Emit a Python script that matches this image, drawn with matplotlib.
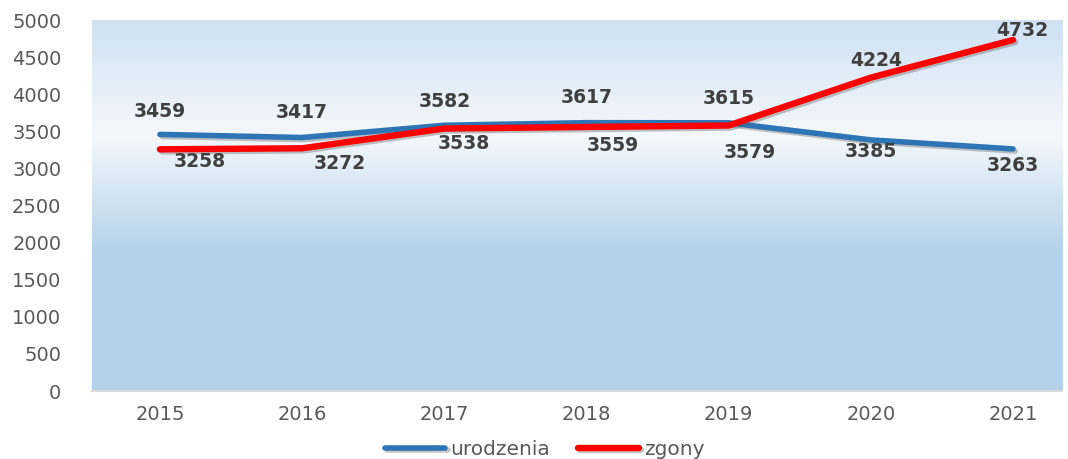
import matplotlib.pyplot as plt
import matplotlib.patheffects as pe
from matplotlib.colors import LinearSegmentedColormap
import numpy as np

years = ["2015", "2016", "2017", "2018", "2019", "2020", "2021"]
urodzenia = [3459, 3417, 3582, 3617, 3615, 3385, 3263]
zgony = [3258, 3272, 3538, 3559, 3579, 4224, 4732]

# label offsets in pixels (dx, dy), as placed in the original chart
uro_off = [(0, 23), (0, 25), (0, 24), (0, 25), (0, 24), (0, -12), (0, -17)]
zg_off = [(40, -12), (38, -15), (20, -15), (26, -19), (21, -27), (5, 17), (9, 9)]

fig = plt.figure(figsize=(10.68, 4.59), dpi=100)
ax = fig.add_axes([0.0861, 0.148, 0.9083, 0.8083])

x = np.arange(len(years))
ax.set_xlim(-0.478, 6.345)
ax.set_ylim(0, 5000)

# background gradient (top light blue -> white -> blue)
cmap = LinearSegmentedColormap.from_list(
    "bg", [(0.0, "#cfe1f2"), (0.31, "#f4f8fc"), (0.63, "#b4d2ea"), (1.0, "#b3d1eb")])
grad = np.linspace(0, 1, 256).reshape(-1, 1)
ax.imshow(grad, cmap=cmap, aspect="auto", extent=[-0.478, 6.345, 0, 5000],
          origin="upper", zorder=0)

shadow = [pe.SimpleLineShadow(offset=(1.5, -1.5), shadow_color="#555555", alpha=0.35), pe.Normal()]
ax.plot(x, urodzenia, color="#2e75b6", lw=4, solid_capstyle="round",
        path_effects=shadow, zorder=2, label="urodzenia")
ax.plot(x, zgony, color="#ff0000", lw=4.6, solid_capstyle="round",
        path_effects=shadow, zorder=3, label="zgony")

for xi, v, off in zip(x, urodzenia, uro_off):
    ax.annotate(str(v), (xi, v), xytext=off, textcoords="offset pixels",
                ha="center", va="center", fontsize=13.5, fontweight="bold", color="#404040", zorder=4)
for xi, v, off in zip(x, zgony, zg_off):
    ax.annotate(str(v), (xi, v), xytext=off, textcoords="offset pixels",
                ha="center", va="center", fontsize=13.5, fontweight="bold", color="#404040", zorder=4)

ax.set_xticks(x)
ax.set_xticklabels(years)
ax.set_yticks(range(0, 5001, 500))
ax.tick_params(axis="both", length=0, labelsize=14, labelcolor="#595959")
ax.tick_params(axis="y", pad=22)
ax.tick_params(axis="x", pad=10)
for s in ["top", "right", "left"]:
    ax.spines[s].set_visible(False)
ax.spines["bottom"].set_color("#d9d9d9")
ax.spines["bottom"].set_linewidth(1.5)

leg = fig.legend(loc="center", bbox_to_anchor=(0.51, 0.02), ncol=2, frameon=False,
                 fontsize=14.5, handlelength=3.0, handletextpad=0.25, columnspacing=1.4)
for t in leg.get_texts():
    t.set_color("#595959")

fig.savefig("out.png", dpi=100)
